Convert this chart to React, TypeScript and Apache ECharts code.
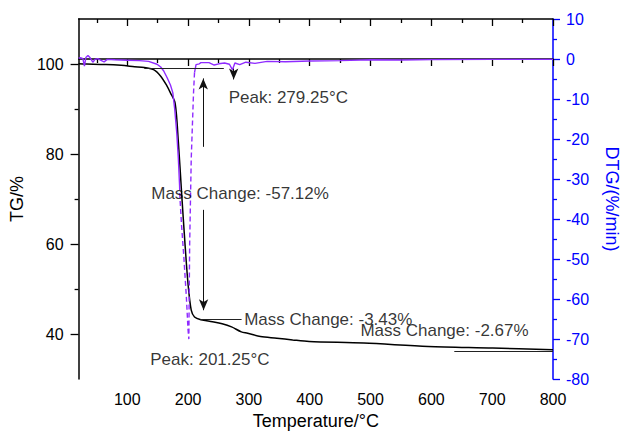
import React, { useEffect, useRef } from "react";
import * as echarts from "echarts";

const FONT = "Liberation Sans, Arial, Helvetica, sans-serif";

// TG curve (temperature °C, mass %)
const tgTemp = [20, 33, 65, 90, 112, 128, 144, 155, 165, 171, 178.7, 184, 189.2, 194.6, 199.9, 205.2, 210.6, 221, 240, 256, 271.5, 287.5, 298, 319, 346, 372, 399, 489, 595, 701, 800];
const tgValue = [100.05, 100.0, 99.9, 99.7, 99.4, 99.2, 98.7, 97.3, 95.2, 93.6, 91.3, 82.7, 71.7, 60.7, 51.2, 45.3, 43.8, 43.2, 42.75, 42.3, 41.6, 40.5, 40.2, 39.45, 39.1, 38.7, 38.35, 38.0, 37.25, 36.9, 36.5];

// DTG curve (temperature °C, %/min)
const dtgTemp = [20, 24, 27, 29.6, 32, 35.4, 39, 43.4, 47, 51.4, 56, 61.9, 67.3, 80, 100, 120, 135, 149, 155, 160, 166, 171, 174.9, 178, 181.3, 184, 186, 186.7, 189.2, 193.1, 197.2, 199.9, 201.25, 202.6, 205.2, 209, 210.6, 213.1, 218.5, 221.1, 234.4, 243, 250.4, 260, 268, 273, 277, 285, 295, 310, 330, 360, 400, 450, 500, 550, 600, 700, 800];
const dtgValue = [0.2, 0.3, 0.1, -1.8, 0.4, 0.9, 0.3, -0.8, -0.1, 0.1, -0.3, -0.7, -0.1, -0.2, -0.3, -0.4, -0.6, -1.3, -2.0, -3.0, -4.8, -6.5, -8.4, -12.5, -18.3, -24.9, -31.5, -34.8, -41.4, -49.6, -59.5, -67.6, -70, -46.3, -24.9, -8.3, -3.4, -1.4, -1.2, -0.9, -0.9, -1.5, -1.2, -1.0, -1.3, -2.7, -1.0, -1.4, -0.8, -1.1, -0.6, -0.7, -0.5, -0.4, -0.2, -0.25, -0.15, -0.1, -0.1];
const dashFrom = 186;
const dashTo = 210.6;

// Axis ticks
const xMajor = [100, 200, 300, 400, 500, 600, 700, 800];
const xMinor = [50, 150, 250, 350, 450, 550, 650, 750];
const tgMajor = [40, 60, 80, 100];
const tgMinor = [50, 70, 90];
const dtgMinor = [-75, -65, -55, -45, -35, -25, -15, -5, 5];

// Annotations (data coordinates on TG axis)
const annTexts: [number, number, string][] = [
  [266.8, 92.6, "Peak: 279.25°C"],
  [139.4, 71.3, "Mass Change: -57.12%"],
  [292.2, 43.2, "Mass Change: -3.43%"],
  [483.3, 40.9, "Mass Change: -2.67%"],
  [137.8, 34.4, "Peak: 201.25°C"],
];
const annLines: [number, number, number, number][] = [
  [128, 99.0, 258.8, 99.0],
  [220, 43.34, 288, 43.34],
  [637.7, 36.15, 800, 36.15],
];
const annArrows: [number, number, number, number][] = [
  [225, 81.6, 225, 96.8],
  [225.5, 67.6, 225.5, 45.3],
];
// arrow on DTG axis
const peakArrow: [number, number, number, number] = [275, -2.4, 275, -5.1];

export default function App() {
  const ref = useRef<HTMLDivElement>(null);
  useEffect(() => {
    if (!ref.current) return;
    const chart = echarts.init(ref.current, undefined, { renderer: "svg" });
    const tgData = tgTemp.map((t, i) => [t, tgValue[i]]);
    const dtgAll = dtgTemp.map((t, i) => [t, dtgValue[i]]);
    const dtg1 = dtgAll.filter((d) => d[0] <= dashFrom);
    const dtgDash = dtgAll.filter((d) => d[0] >= dashFrom && d[0] <= dashTo);
    const dtg2 = dtgAll.filter((d) => d[0] >= dashTo);
    const purple = "#8f2bff";
    const black = "#000";
    const blue = "#0000ff";

    const xBase = { type: "value", min: 20, max: 800, splitLine: { show: false } } as any;
    const lineStyleAnn = { color: "#222", width: 1, type: "solid" };

    chart.setOption({
      animation: false,
      grid: { left: 72, right: 67, top: 19, bottom: 52, containLabel: false },
      xAxis: [
        {
          ...xBase,
          position: "bottom",
          axisLine: { show: true, lineStyle: { color: black, width: 1.5 } },
          axisTick: { show: true, length: 7, inside: false, customValues: xMajor, lineStyle: { color: black, width: 1.3 } },
          axisLabel: { show: true, customValues: xMajor, color: "#000", fontSize: 16, fontFamily: FONT, margin: 12 },
          name: "Temperature/°C",
          nameLocation: "middle",
          nameGap: 32,
          nameTextStyle: { color: "#000", fontSize: 18, fontFamily: FONT },
        },
        {
          ...xBase,
          position: "bottom",
          axisLine: { show: false },
          axisTick: { show: true, length: 4, customValues: xMinor, lineStyle: { color: black, width: 1.3 } },
          axisLabel: { show: false },
        },
        {
          ...xBase,
          position: "top",
          axisLine: { show: true, lineStyle: { color: black, width: 1.5 } },
          axisTick: { show: true, length: 7, inside: true, customValues: xMajor, lineStyle: { color: black, width: 1.3 } },
          axisLabel: { show: false },
        },
        {
          ...xBase,
          position: "top",
          axisLine: { show: false },
          axisTick: { show: true, length: 4, inside: true, customValues: xMinor, lineStyle: { color: black, width: 1.3 } },
          axisLabel: { show: false },
        },
      ],
      yAxis: [
        {
          type: "value",
          min: 30,
          max: 110,
          position: "left",
          splitLine: { show: false },
          axisLine: { show: true, lineStyle: { color: black, width: 1.5 } },
          axisTick: { show: true, length: 8, customValues: tgMajor, lineStyle: { color: black, width: 1.3 } },
          axisLabel: { show: true, customValues: tgMajor, color: "#000", fontSize: 16, fontFamily: FONT, margin: 15 },
          name: "TG/%",
          nameLocation: "middle",
          nameGap: 43,
          nameTextStyle: { color: "#000", fontSize: 18, fontFamily: FONT },
        },
        {
          type: "value",
          min: 30,
          max: 110,
          position: "left",
          splitLine: { show: false },
          axisLine: { show: false },
          axisTick: { show: true, length: 4, customValues: tgMinor, lineStyle: { color: black, width: 1.3 } },
          axisLabel: { show: false },
        },
        {
          type: "value",
          min: -80,
          max: 10,
          interval: 10,
          position: "right",
          splitLine: { show: false },
          axisLine: { show: true, lineStyle: { color: blue, width: 1.5 } },
          axisTick: { show: true, length: 7, lineStyle: { color: blue, width: 1.3 } },
          axisLabel: { show: true, color: blue, fontSize: 16, fontFamily: FONT, margin: 13 },
          name: "DTG/(%/min)",
          nameLocation: "middle",
          nameGap: 50,
          nameRotate: -90,
          nameTextStyle: { color: blue, fontSize: 18, fontFamily: FONT },
        },
        {
          type: "value",
          min: -80,
          max: 10,
          position: "right",
          splitLine: { show: false },
          axisLine: { show: false },
          axisTick: { show: true, length: 4, customValues: dtgMinor, lineStyle: { color: blue, width: 1.3 } },
          axisLabel: { show: false },
        },
      ],
      series: [
        {
          type: "line",
          name: "TG",
          xAxisIndex: 0,
          yAxisIndex: 0,
          data: tgData,
          showSymbol: false,
          smooth: 0.3,
          lineStyle: { color: black, width: 1.5 },
          z: 3,
          markLine: {
            silent: true,
            symbol: ["none", "none"],
            label: { show: false },
            lineStyle: lineStyleAnn,
            data: annLines.map((l) => [{ coord: [l[0], l[1]] }, { coord: [l[2], l[3]] }]),
          },
        },
        {
          type: "line",
          name: "DTG",
          xAxisIndex: 0,
          yAxisIndex: 2,
          data: dtg1,
          showSymbol: false,
          lineStyle: { color: purple, width: 1.4 },
          z: 4,
          markLine: {
            silent: true,
            symbol: ["none", "arrow"],
            symbolSize: [7, 11],
            label: { show: false },
            lineStyle: { color: "#111", width: 1, type: "solid" },
            data: [[{ coord: [peakArrow[0], peakArrow[1]] }, { coord: [peakArrow[2], peakArrow[3]] }]],
          },
        },
        {
          type: "line",
          name: "DTG-dash",
          xAxisIndex: 0,
          yAxisIndex: 2,
          data: dtgDash,
          showSymbol: false,
          lineStyle: { color: purple, width: 1.4, type: [5, 3] },
          z: 4,
        },
        {
          type: "line",
          name: "DTG-2",
          xAxisIndex: 0,
          yAxisIndex: 2,
          data: dtg2,
          showSymbol: false,
          lineStyle: { color: purple, width: 1.4 },
          z: 4,
        },
        {
          type: "scatter",
          name: "annotations",
          xAxisIndex: 0,
          yAxisIndex: 0,
          symbolSize: 0,
          silent: true,
          z: 5,
          data: annTexts,
          label: {
            show: true,
            position: "right",
            distance: 0,
            formatter: (p: any) => p.data[2],
            color: "#000",
            fontSize: 17,
            fontFamily: FONT,
          },
          markLine: {
            silent: true,
            symbol: ["none", "arrow"],
            symbolSize: [7, 11],
            label: { show: false },
            lineStyle: { color: "#111", width: 1, type: "solid" },
            data: annArrows.map((l) => [{ coord: [l[0], l[1]] }, { coord: [l[2], l[3]] }]),
          },
        },
      ],
    });
    return () => chart.dispose();
  }, []);
  return <div ref={ref} style={{ width: 629, height: 435, position: "absolute", left: 0, top: 0, background: "#fff" }} />;
}
